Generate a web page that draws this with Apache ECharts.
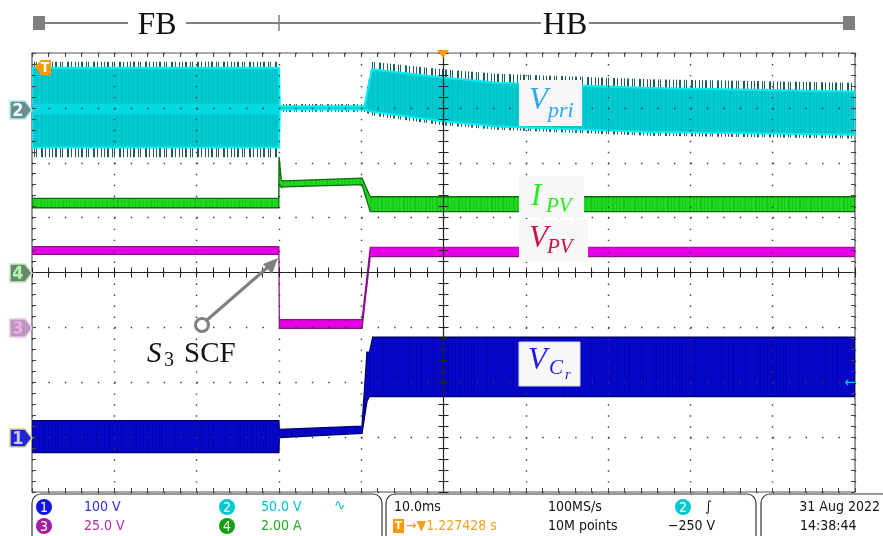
<!DOCTYPE html>
<html><head><meta charset="utf-8">
<script src="https://cdn.jsdelivr.net/npm/echarts@6/dist/echarts.min.js"></script>
<style>html,body{margin:0;padding:0;background:#fff;overflow:hidden}#c{width:883px;height:536px}</style>
</head><body><div id="c"></div>
<script>
// Horizontal axis: time in ms (10 ms/div). Vertical axis: screen divisions (0 = centre).
const xRange = [-50, 50];
const yRange = [-4, 4];

// Channel 2 : V_pri (cyan)
const vpriT       = [-50, -20.0, -19.9, -9.6, -8.7, 0.2, 6.6, 25, 50];
const vpriHi      = [3.73, 3.73, 3.03, 3.03, 3.70, 3.55, 3.46, 3.36, 3.30];
const vpriLo      = [2.28, 2.28, 2.97, 2.97, 2.93, 2.75, 2.66, 2.56, 2.51];
const vpriSpikeHi = [3.84, 3.84, 3.07, 3.07, 3.84, 3.70, 3.62, 3.52, 3.46];
const vpriSpikeLo = [2.10, 2.10, 2.93, 2.93, 2.86, 2.68, 2.60, 2.49, 2.44];
const vpriCoreT   = [-50, -20.0];
const vpriCoreHi  = [3.08, 3.08];
const vpriCoreLo  = [2.88, 2.88];

// Channel 4 : I_PV (green)
const ipvT  = [-50, -20.02, -19.98, -19.7, -19.4, -9.9, -8.9, 50];
const ipvHi = [1.35, 1.35, 2.11, 1.68, 1.67, 1.72, 1.38, 1.38];
const ipvLo = [1.18, 1.18, 1.62, 1.55, 1.56, 1.60, 1.11, 1.11];

// Channel 3 : V_PV (magenta)
const vpvT  = [-50, -20.0, -19.95, -9.9, -8.9, 50];
const vpvHi = [0.47, 0.47, -0.86, -0.86, 0.46, 0.46];
const vpvLo = [0.33, 0.33, -1.02, -1.02, 0.29, 0.29];

// Channel 1 : V_Cr (blue)
const vcrT  = [-50, -20.0, -19.95, -9.9, -9.3, -9.0, -8.6, 50];
const vcrHi = [-2.70, -2.70, -2.86, -2.80, -1.45, -1.45, -1.18, -1.18];
const vcrLo = [-3.28, -3.28, -3.01, -2.93, -2.35, -2.26, -2.26, -2.26];

// Readout texts
const ch1Scale = '100 V', ch2Scale = '50.0 V', ch3Scale = '25.0 V', ch4Scale = '2.00 A';
const timeBase = '10.0ms', sampleRate = '100MS/s', trigPos = '1.227428 s', memDepth = '10M points', trigLevel = '\u2212250 V';
const dateStr = '31 Aug 2022', timeStr = '14:38:44';

function stripes(color, bg, pattern, h) {
  const w = pattern.reduce((a, b) => a + b, 0);
  const cv = document.createElement('canvas');
  cv.width = w; cv.height = h || 4;
  const ctx = cv.getContext('2d');
  if (bg) { ctx.fillStyle = bg; ctx.fillRect(0, 0, w, cv.height); }
  ctx.fillStyle = color;
  let x = 0;
  pattern.forEach((p, i) => { if (i % 2 === 0) ctx.fillRect(x, 0, p, cv.height); x += p; });
  return { image: cv, repeat: 'repeat' };
}

function band(T, hi, lo, style, z) {
  return {
    type: 'custom', xAxisIndex: 0, yAxisIndex: 0, z: z, silent: true, clip: true,
    data: [[T[0], hi[0]]],
    renderItem: function (params, api) {
      const pts = [];
      for (let i = 0; i < T.length; i++) pts.push(api.coord([T[i], hi[i]]));
      for (let i = T.length - 1; i >= 0; i--) pts.push(api.coord([T[i], lo[i]]));
      return { type: 'polygon', shape: { points: pts }, style: style };
    }
  };
}

const tealSpikes = stripes('#1d5f5d', null, [1, 2, 2, 3, 1, 1, 1, 4, 2, 2, 1, 3, 1, 2]);
const cyanHatch = stripes('#00c0c5', '#00ccd1', [1, 2, 1, 1, 1, 3, 2, 2, 1, 2]);
const blueHatch = stripes('#0303bc', '#0707cc', [1, 2, 1, 1, 2, 2, 1, 3]);
const greenHatch = stripes('#18c818', '#22d822', [1, 2, 1, 3, 2, 2]);

const series = [
  band(vpriT, vpriSpikeHi, vpriHi, { fill: tealSpikes }, 2),
  band(vpriT, vpriLo, vpriSpikeLo, { fill: tealSpikes }, 2),
  band(vpriT, vpriHi, vpriLo, { fill: cyanHatch, stroke: '#00eef6', lineWidth: 2 }, 3),
  band(vpriCoreT, vpriCoreHi, vpriCoreLo, { fill: '#00d8e2' }, 3),
  band(ipvT, ipvHi, ipvLo, { fill: greenHatch, stroke: '#0b6e0b', lineWidth: 1.3 }, 4),
  band(vpvT, vpvHi, vpvLo, { fill: '#e600e6', stroke: '#8a108a', lineWidth: 1.2 }, 4),
  band(vcrT, vcrHi, vcrLo, { fill: blueHatch, stroke: '#00006a', lineWidth: 1.3 }, 4)
];

const tickCol = '#444';
const baseX = { type: 'value', min: xRange[0], max: xRange[1], interval: 10, axisLabel: { show: false }, splitLine: { show: false }, z: 6 };
const baseY = { type: 'value', min: yRange[0], max: yRange[1], interval: 1, axisLabel: { show: false }, splitLine: { show: false }, z: 6 };
const edgeTick = { show: true, inside: true, length: 4, lineStyle: { color: tickCol, width: 1 } };
const edgeMinor = { show: true, splitNumber: 5, length: 4, lineStyle: { color: tickCol, width: 1 } };
const ctrTickIn = { show: true, inside: true, length: 5, lineStyle: { color: '#222', width: 1 } };
const ctrTickOut = { show: true, inside: false, length: 5, lineStyle: { color: '#222', width: 1 } };
const ctrMinor = { show: true, splitNumber: 5, length: 5, lineStyle: { color: '#222', width: 1 } };

const xAxis = [
  Object.assign({}, baseX, { position: 'bottom', axisLine: { show: false, onZero: false }, axisTick: edgeTick, minorTick: edgeMinor,
    splitLine: { show: true, lineStyle: { color: '#3a3a3a', width: 1.4, type: [1.4, 9.58], dashOffset: 0 } } }),
  Object.assign({}, baseX, { position: 'top', axisLine: { show: false, onZero: false }, axisTick: edgeTick, minorTick: edgeMinor }),
  Object.assign({}, baseX, { position: 'bottom', axisLine: { show: true, onZero: true, onZeroAxisIndex: 0, lineStyle: { color: '#222', width: 1.2 } }, axisTick: ctrTickIn, minorTick: ctrMinor }),
  Object.assign({}, baseX, { position: 'bottom', axisLine: { show: false, onZero: true, onZeroAxisIndex: 0 }, axisTick: ctrTickOut, minorTick: ctrMinor })
];
const yAxis = [
  Object.assign({}, baseY, { position: 'left', axisLine: { show: false, onZero: false }, axisTick: edgeTick, minorTick: edgeMinor,
    splitLine: { show: true, lineStyle: { color: '#3a3a3a', width: 1.4, type: [1.4, 15.06], dashOffset: 0 } } }),
  Object.assign({}, baseY, { position: 'right', axisLine: { show: false, onZero: false }, axisTick: edgeTick, minorTick: edgeMinor }),
  Object.assign({}, baseY, { position: 'left', axisLine: { show: true, onZero: true, onZeroAxisIndex: 0, lineStyle: { color: '#222', width: 1.2 } }, axisTick: ctrTickIn, minorTick: ctrMinor }),
  Object.assign({}, baseY, { position: 'left', axisLine: { show: false, onZero: true, onZeroAxisIndex: 0 }, axisTick: ctrTickOut, minorTick: ctrMinor })
];

const serif = '"Liberation Serif", "DejaVu Serif", serif';
const mono = '"DejaVu Sans Condensed", "Liberation Sans Narrow", "Liberation Sans", sans-serif';
function txt(x, y, text, size, color, opts) {
  opts = opts || {};
  return { type: 'text', z: 100, style: { x: x, y: y, text: text, fill: color,
    font: (opts.italic ? 'italic ' : '') + (opts.bold ? 'bold ' : '') + size + 'px ' + (opts.family || serif),
    textAlign: opts.align || 'left', textVerticalAlign: 'middle' } };
}
function pent(y, bg, fg, stroke, label) {
  return [
    { type: 'polygon', z: 90, shape: { points: [[10, y - 9], [25, y - 9], [32, y], [25, y + 9], [10, y + 9]] }, style: { fill: bg, stroke: stroke, lineWidth: 1.5 } },
    txt(18, y + 1, label, 18, fg, { family: mono, align: 'center', bold: true })
  ];
}
function circ(cx, cy, color, label) {
  return [
    { type: 'circle', z: 90, shape: { cx: cx, cy: cy, r: 8 }, style: { fill: color } },
    txt(cx, cy + 1, label, 14, '#fff', { family: mono, align: 'center' })
  ];
}
function rbox(x, y, w, h) {
  return { type: 'rect', z: 80, shape: { x: x, y: y, width: w, height: h, r: 9 }, style: { fill: '#fff', stroke: '#333', lineWidth: 1.2 } };
}
function wbox(x, y, w, h, stroke) {
  return { type: 'rect', z: 95, shape: { x: x, y: y, width: w, height: h }, style: { fill: '#f7f7f7', stroke: stroke || null, lineWidth: 1 } };
}

const graphic = [
  // mode bar
  { type: 'rect', z: 90, shape: { x: 33, y: 16, width: 12, height: 14 }, style: { fill: '#808080' } },
  { type: 'rect', z: 90, shape: { x: 843, y: 16, width: 12, height: 14 }, style: { fill: '#808080' } },
  { type: 'line', z: 90, shape: { x1: 45, y1: 23, x2: 128, y2: 23 }, style: { stroke: '#808080', lineWidth: 2 } },
  { type: 'line', z: 90, shape: { x1: 186, y1: 23, x2: 541, y2: 23 }, style: { stroke: '#808080', lineWidth: 2 } },
  { type: 'line', z: 90, shape: { x1: 589, y1: 23, x2: 843, y2: 23 }, style: { stroke: '#808080', lineWidth: 2 } },
  { type: 'line', z: 90, shape: { x1: 279, y1: 15, x2: 279, y2: 31 }, style: { stroke: '#808080', lineWidth: 1.5 } },
  txt(157, 26, 'FB', 32, '#111', { align: 'center' }),
  txt(565, 26, 'HB', 32, '#111', { align: 'center' }),

  // trace labels
  wbox(519, 80, 63, 46),
  txt(529, 101, 'V', 31, '#2aa8ee', { italic: true }),
  txt(548, 111, 'pri', 22, '#2aa8ee', { italic: true }),
  wbox(519, 176, 65, 42),
  txt(531, 197, 'I', 31, '#22ee22', { italic: true }),
  txt(546, 206, 'PV', 21, '#22ee22', { italic: true }),
  wbox(519, 220, 69, 42),
  txt(529, 239, 'V', 31, '#cc1144', { italic: true }),
  txt(547, 247, 'PV', 21, '#cc1144', { italic: true }),
  wbox(519, 342, 61, 44, '#d8d8e8'),
  txt(528, 361, 'V', 31, '#1a1aee', { italic: true }),
  txt(549, 368, 'C', 21, '#1a1aee', { italic: true }),
  txt(565, 375, 'r', 15, '#1a1aee', { italic: true }),

  // S3 SCF annotation
  { type: 'line', z: 96, shape: { x1: 207, y1: 320, x2: 268, y2: 267 }, style: { stroke: '#808080', lineWidth: 3 } },
  { type: 'polygon', z: 96, shape: { points: [[278, 258], [263, 264], [272, 274]] }, style: { fill: '#808080' } },
  { type: 'circle', z: 97, shape: { cx: 202, cy: 325, r: 6.5 }, style: { fill: '#fff', stroke: '#808080', lineWidth: 3 } },
  txt(147, 354, 'S', 29, '#111', { italic: true }),
  txt(164, 361, '3', 20, '#111'),
  txt(184, 354, 'SCF', 29, '#111'),

  // channel markers
  ...pent(110, '#6e8c8c', '#e8ffff', '#9ff6f6', '2'),
  ...pent(273, '#6f8470', '#aaffaa', '#b8f0b8', '4'),
  ...pent(328, '#b89ab8', '#f0a8f0', '#f0c0f0', '3'),
  ...pent(438, '#2323d8', '#c8c8ff', '#d8d890', '1'),
  // trigger markers
  { type: 'polygon', z: 92, shape: { points: [[35, 67], [41, 60], [51, 60], [51, 75], [41, 75]] }, style: { fill: '#ff9a00' } },
  txt(45, 68, 'T', 14, '#fff', { family: mono, align: 'center', bold: true }),
  { type: 'polygon', z: 92, shape: { points: [[437, 50], [449, 50], [443, 58]] }, style: { fill: '#ff9a00' } },
  txt(850, 383, '\u2190', 15, '#00cfd8', { family: mono, align: 'center' }),

  // readout panels
  rbox(32, 494, 350, 50),
  rbox(386, 494, 370, 50),
  rbox(761, 494, 140, 50),
  ...circ(44, 507, '#1414e6', '1'),
  txt(84, 507, ch1Scale, 14, '#2d2df0', { family: mono }),
  ...circ(227, 507, '#00c8cc', '2'),
  txt(261, 507, ch2Scale, 14, '#00c2cc', { family: mono }),
  txt(334, 506, '\u223F', 15, '#00c2cc', { family: mono }),
  ...circ(44, 526, '#a01ea0', '3'),
  txt(84, 526, ch3Scale, 14, '#b02cb0', { family: mono }),
  ...circ(227, 526, '#12a012', '4'),
  txt(261, 526, ch4Scale, 14, '#1eae1e', { family: mono }),
  txt(394, 507, timeBase, 14, '#111', { family: mono }),
  txt(548, 507, sampleRate, 14, '#111', { family: mono }),
  ...circ(683, 507, '#00c8cc', '2'),
  txt(705, 507, '\u222B', 14, '#111', { family: mono }),
  { type: 'rect', z: 90, shape: { x: 393, y: 519, width: 11, height: 14 }, style: { fill: '#ff9a00' } },
  txt(398.5, 526, 'T', 11, '#fff', { family: mono, align: 'center', bold: true }),
  txt(406, 526, '\u2192\u25BC' + trigPos, 14, '#f5a020', { family: mono }),
  txt(548, 526, memDepth, 14, '#111', { family: mono }),
  txt(668, 526, trigLevel, 14, '#111', { family: mono }),
  txt(880, 507, dateStr, 14, '#111', { family: mono, align: 'right' }),
  txt(800, 526, timeStr, 14, '#111', { family: mono })
];

const chart = echarts.init(document.getElementById('c'), null, { renderer: 'canvas' });
chart.setOption({
  animation: false,
  backgroundColor: '#fff',
  grid: { left: 32, top: 53, width: 823, height: 439, show: true, borderColor: '#555', borderWidth: 1.2, backgroundColor: 'transparent' },
  xAxis: xAxis,
  yAxis: yAxis,
  series: series,
  graphic: graphic
});
</script></body></html>
